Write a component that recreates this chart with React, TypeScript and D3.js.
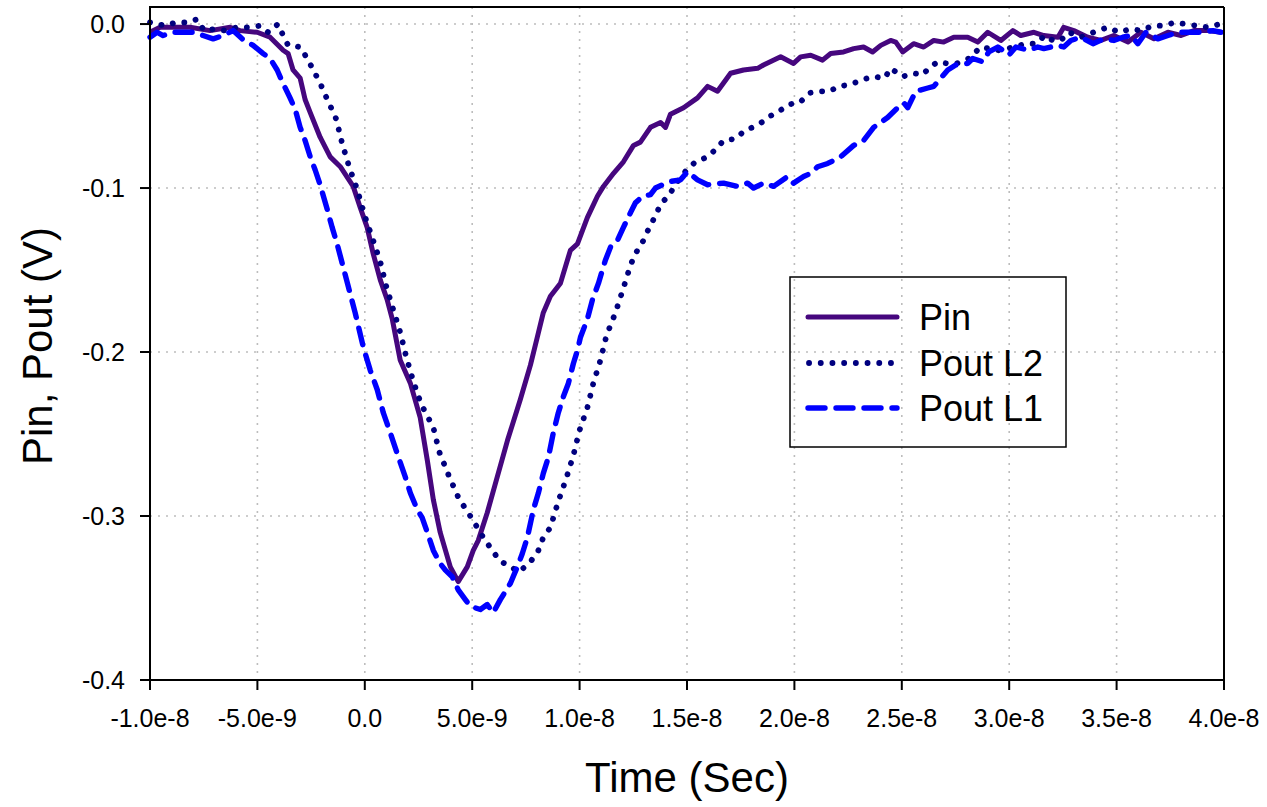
import React from "react";
import * as d3 from "d3";

// time in ns, voltage in V
const pinData: [number, number][] = [
  [-10.0, -0.005], [-9.53, -0.002], [-8.83, -0.002], [-8.14, -0.002], [-7.2, -0.004], [-6.27, -0.002],
  [-5.81, -0.004], [-5.01, -0.005], [-4.41, -0.008], [-3.8, -0.016], [-3.57, -0.018], [-3.34, -0.028],
  [-3.01, -0.033], [-2.78, -0.046], [-2.54, -0.054], [-2.08, -0.069], [-1.61, -0.081], [-1.14, -0.087],
  [-0.54, -0.099], [-0.21, -0.112], [0.11, -0.124], [0.39, -0.14], [0.72, -0.156], [1.04, -0.168],
  [1.28, -0.18], [1.65, -0.205], [2.12, -0.219], [2.58, -0.24], [2.91, -0.266], [3.19, -0.29],
  [3.51, -0.31], [3.98, -0.331], [4.35, -0.34], [4.77, -0.331], [5.05, -0.321], [5.28, -0.315],
  [5.7, -0.298], [6.17, -0.276], [6.64, -0.254], [7.24, -0.229], [7.71, -0.208], [8.03, -0.191],
  [8.31, -0.176], [8.64, -0.166], [9.11, -0.158], [9.57, -0.138], [9.9, -0.134], [10.36, -0.118],
  [10.83, -0.105], [11.11, -0.099], [11.58, -0.091], [12.04, -0.084], [12.51, -0.074], [12.83, -0.072],
  [13.3, -0.063], [13.77, -0.06], [14.0, -0.063], [14.23, -0.055], [14.84, -0.051], [15.49, -0.045],
  [15.96, -0.038], [16.42, -0.041], [17.03, -0.03], [17.63, -0.028], [18.29, -0.027], [18.56, -0.025],
  [19.36, -0.02], [19.96, -0.024], [20.29, -0.02], [20.76, -0.019], [21.31, -0.022], [21.69, -0.018],
  [22.29, -0.017], [22.76, -0.015], [23.22, -0.014], [23.64, -0.017], [24.02, -0.013], [24.48, -0.01],
  [24.72, -0.011], [25.04, -0.017], [25.55, -0.012], [26.02, -0.014], [26.49, -0.01], [26.95, -0.011],
  [27.42, -0.008], [28.07, -0.008], [28.54, -0.011], [29.0, -0.005], [29.61, -0.01], [30.17, -0.004],
  [30.54, -0.007], [31.15, -0.005], [31.61, -0.007], [32.27, -0.008], [32.54, -0.002], [33.01, -0.004],
  [33.66, -0.008], [34.27, -0.01], [34.87, -0.007], [35.53, -0.011], [36.13, -0.005], [36.74, -0.009],
  [37.39, -0.005], [38.0, -0.007], [38.6, -0.004], [39.25, -0.004], [39.86, -0.005],
];

const poutL2Data: [number, number][] = [
  [-10.0, 0.001], [-9.3, -0.001], [-8.79, 0.001], [-8.23, 0.001], [-7.81, 0.003], [-7.48, -0.004],
  [-6.97, -0.003], [-6.51, -0.004], [-5.95, -0.002], [-5.34, -0.002], [-4.87, -0.001], [-4.5, -0.005],
  [-4.04, 0.0], [-3.8, -0.007], [-3.57, -0.013], [-3.01, -0.014], [-2.68, -0.021], [-2.36, -0.029],
  [-2.08, -0.036], [-1.85, -0.043], [-1.57, -0.051], [-1.33, -0.058], [-1.05, -0.073], [-0.73, -0.087],
  [-0.35, -0.101], [-0.03, -0.116], [0.34, -0.13], [0.72, -0.145], [1.0, -0.16], [1.32, -0.174],
  [1.65, -0.188], [1.93, -0.203], [2.26, -0.218], [2.63, -0.232], [3.19, -0.246], [3.47, -0.261],
  [3.93, -0.276], [4.4, -0.29], [4.77, -0.297], [5.1, -0.304], [5.56, -0.314], [5.94, -0.321],
  [6.26, -0.327], [6.64, -0.33], [7.19, -0.334], [7.71, -0.328], [8.08, -0.321], [8.31, -0.313],
  [8.64, -0.307], [9.01, -0.291], [9.38, -0.277], [9.71, -0.263], [9.99, -0.248], [10.36, -0.234],
  [10.64, -0.219], [10.97, -0.205], [11.25, -0.19], [11.67, -0.176], [12.04, -0.161], [12.37, -0.147],
  [12.6, -0.14], [12.97, -0.132], [13.21, -0.125], [13.49, -0.118], [13.77, -0.11], [14.18, -0.104],
  [14.56, -0.096], [14.98, -0.089], [15.4, -0.084], [15.96, -0.081], [16.37, -0.076], [16.7, -0.071],
  [17.26, -0.07], [17.68, -0.065], [18.05, -0.063], [18.47, -0.06], [18.89, -0.056], [19.31, -0.053],
  [19.73, -0.049], [20.24, -0.048], [20.71, -0.042], [21.08, -0.041], [21.64, -0.041], [22.06, -0.038],
  [22.57, -0.037], [23.18, -0.034], [23.64, -0.032], [24.2, -0.033], [24.48, -0.027], [25.04, -0.032],
  [25.55, -0.03], [25.97, -0.031], [26.25, -0.027], [26.67, -0.023], [27.09, -0.024], [27.56, -0.024],
  [28.12, -0.021], [28.68, -0.014], [29.52, -0.016], [29.93, -0.015], [30.77, -0.012], [31.24, -0.012],
  [31.66, -0.007], [32.03, -0.01], [32.4, -0.01], [32.78, -0.005], [33.34, -0.008], [34.13, -0.004],
  [34.6, -0.002], [35.11, -0.005], [35.67, -0.003], [36.13, -0.004], [36.69, -0.001], [37.2, -0.001],
  [37.72, 0.001], [38.18, 0.0], [38.74, -0.001], [39.25, -0.002], [39.81, 0.0],
];

const poutL1Data: [number, number][] = [
  [-10.0, -0.008], [-9.67, -0.005], [-9.39, -0.007], [-8.93, -0.005], [-8.46, -0.005], [-8.0, -0.005],
  [-7.53, -0.007], [-7.06, -0.009], [-6.6, -0.007], [-6.13, -0.004], [-5.71, -0.009], [-5.2, -0.013],
  [-4.73, -0.018], [-4.41, -0.021], [-4.08, -0.028], [-3.85, -0.035], [-3.48, -0.045], [-3.24, -0.052],
  [-3.01, -0.063], [-2.78, -0.071], [-2.54, -0.081], [-2.31, -0.089], [-2.08, -0.098], [-1.75, -0.113],
  [-1.52, -0.124], [-1.29, -0.134], [-1.01, -0.148], [-0.77, -0.16], [-0.45, -0.176], [-0.07, -0.197],
  [0.25, -0.211], [0.58, -0.223], [0.86, -0.237], [1.18, -0.249], [1.51, -0.262], [1.88, -0.276],
  [2.12, -0.286], [2.44, -0.296], [2.67, -0.301], [2.91, -0.31], [3.19, -0.321], [3.51, -0.329],
  [3.75, -0.333], [4.07, -0.337], [4.35, -0.345], [4.68, -0.351], [4.91, -0.355], [5.38, -0.357],
  [5.7, -0.354], [5.98, -0.359], [6.31, -0.351], [6.78, -0.341], [7.1, -0.331], [7.33, -0.323],
  [7.57, -0.313], [7.85, -0.296], [8.08, -0.286], [8.31, -0.274], [8.55, -0.264], [8.78, -0.249],
  [9.01, -0.237], [9.25, -0.227], [9.48, -0.219], [9.71, -0.207], [9.9, -0.199], [10.04, -0.191],
  [10.36, -0.18], [10.6, -0.168], [10.88, -0.158], [11.2, -0.144], [11.44, -0.136], [11.76, -0.132],
  [12.04, -0.124], [12.37, -0.115], [12.6, -0.109], [12.93, -0.105], [13.3, -0.104], [13.53, -0.1],
  [13.86, -0.098], [14.23, -0.096], [14.7, -0.095], [15.02, -0.09], [15.49, -0.095], [15.96, -0.098],
  [16.7, -0.097], [17.35, -0.099], [17.82, -0.097], [18.1, -0.1], [18.56, -0.097], [19.03, -0.099],
  [19.68, -0.093], [19.96, -0.097], [20.43, -0.093], [20.76, -0.091], [21.08, -0.087], [21.55, -0.085],
  [22.15, -0.081], [22.76, -0.074], [23.22, -0.071], [23.69, -0.063], [24.34, -0.057], [24.81, -0.051],
  [25.09, -0.048], [25.28, -0.051], [25.65, -0.041], [26.21, -0.039], [26.49, -0.038], [26.81, -0.033],
  [27.14, -0.028], [27.51, -0.025], [28.07, -0.024], [28.3, -0.021], [28.77, -0.023], [29.05, -0.017],
  [29.47, -0.014], [29.7, -0.016], [29.98, -0.019], [30.31, -0.014], [30.91, -0.016], [31.33, -0.014],
  [31.61, -0.015], [32.27, -0.013], [32.54, -0.014], [32.87, -0.01], [33.34, -0.008], [33.9, -0.012],
  [34.41, -0.009], [34.87, -0.01], [35.29, -0.008], [35.67, -0.007], [35.99, -0.012], [36.37, -0.005],
  [36.92, -0.009], [37.39, -0.007], [37.86, -0.005], [38.37, -0.005], [38.93, -0.005], [39.49, -0.004],
  [39.86, -0.005],
];

const xTickValues = [-10, -5, 0, 5, 10, 15, 20, 25, 30, 35, 40]; // ns
const xTickLabels = ["-1.0e-8", "-5.0e-9", "0.0", "5.0e-9", "1.0e-8", "1.5e-8", "2.0e-8", "2.5e-8", "3.0e-8", "3.5e-8", "4.0e-8"];
const yTickValues = [0, -0.1, -0.2, -0.3, -0.4];
const yTickLabels = ["0.0", "-0.1", "-0.2", "-0.3", "-0.4"];
const seriesNames = ["Pin", "Pout L2", "Pout L1"];

const W = 1267;
const H = 807;
const left = 150, right = 1224, top = 7, bottom = 680;
const FONT = "'Liberation Sans', Arial, sans-serif";

export default function App() {
  const x = d3.scaleLinear().domain([-10, 40]).range([left, right]);
  const y = d3.scaleLinear().domain([-0.4, 0.0104]).range([bottom, top]);
  const line = d3.line<[number, number]>().x((d) => x(d[0])).y((d) => y(d[1]));

  const styles = [
    { color: "#46077E", dash: "none", width: 5, cap: "butt" as const },
    { color: "#00007F", dash: "0.1 11.6", width: 5.8, cap: "round" as const },
    { color: "#0000FF", dash: "17 11", width: 5.4, cap: "round" as const },
  ];
  const datasets = [pinData, poutL2Data, poutL1Data];

  const legX = 790, legY = 277, legW = 276, legH = 170;
  const legRows = [317, 363, 408];

  return (
    <svg width={W} height={H} style={{ position: "absolute", left: 0, top: 0, background: "#fff" }}>
      <rect x={0} y={0} width={W} height={H} fill="#fff" />
      {/* grid */}
      <g stroke="#bdbdbd" strokeWidth={1.6} strokeDasharray="2 6">
        {xTickValues.slice(1, -1).map((t) => (
          <line key={"gx" + t} x1={x(t)} x2={x(t)} y1={top} y2={bottom} />
        ))}
        {yTickValues.slice(0, -1).map((v) => (
          <line key={"gy" + v} x1={left} x2={right} y1={y(v)} y2={y(v)} />
        ))}
      </g>
      {/* series */}
      {datasets.map((data, i) => (
        <path
          key={i}
          d={line(data) || ""}
          fill="none"
          stroke={styles[i].color}
          strokeWidth={styles[i].width}
          strokeDasharray={styles[i].dash}
          strokeLinecap={styles[i].cap}
          strokeLinejoin="round"
        />
      ))}
      {/* frame */}
      <line x1={left} x2={right} y1={top} y2={top} stroke="#000" strokeWidth={2} />
      <line x1={right} x2={right} y1={top} y2={bottom} stroke="#000" strokeWidth={2} />
      <line x1={left} x2={right + 1} y1={bottom} y2={bottom} stroke="#000" strokeWidth={2} />
      <line x1={left} x2={left} y1={top - 1} y2={bottom + 1} stroke="#000" strokeWidth={2} />
      {/* x ticks */}
      {xTickValues.map((t, i) => (
        <g key={"xt" + t}>
          <line x1={x(t)} x2={x(t)} y1={bottom} y2={bottom + 10} stroke="#000" strokeWidth={2} />
          <text x={x(t)} y={bottom + 47} textAnchor="middle" fontFamily={FONT} fontSize={25} fill="#000">
            {xTickLabels[i]}
          </text>
        </g>
      ))}
      {/* y ticks */}
      {yTickValues.map((v, i) => (
        <g key={"yt" + v}>
          <line x1={left - 10} x2={left} y1={y(v)} y2={y(v)} stroke="#000" strokeWidth={2} />
          <text x={left - 25} y={y(v)} dy="0.36em" textAnchor="end" fontFamily={FONT} fontSize={25} fill="#000">
            {yTickLabels[i]}
          </text>
        </g>
      ))}
      {/* axis titles */}
      <text x={687} y={792} textAnchor="middle" fontFamily={FONT} fontSize={42} fill="#000">
        Time (Sec)
      </text>
      <text
        transform={`translate(52, 346) rotate(-90)`}
        textAnchor="middle"
        fontFamily={FONT}
        fontSize={42}
        fill="#000"
      >
        Pin, Pout (V)
      </text>
      {/* legend */}
      <rect x={legX} y={legY} width={legW} height={legH} fill="none" stroke="#000" strokeWidth={1.5} />
      {seriesNames.map((name, i) => (
        <g key={name}>
          <line
            x1={i === 1 ? 809 : 808}
            x2={i === 1 ? 896 : 897}
            y1={legRows[i]}
            y2={legRows[i]}
            stroke={styles[i].color}
            strokeWidth={styles[i].width}
            strokeDasharray={styles[i].dash}
            strokeLinecap={i === 0 ? "round" : styles[i].cap}
          />
          <text x={919} y={legRows[i]} dy="0.36em" fontFamily={FONT} fontSize={36} fill="#000">
            {name}
          </text>
        </g>
      ))}
    </svg>
  );
}
